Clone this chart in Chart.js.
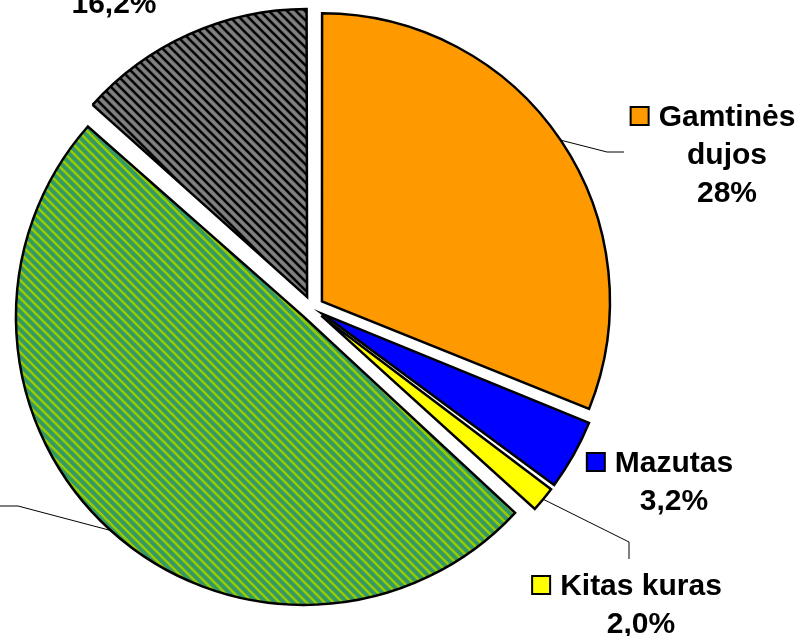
<!DOCTYPE html>
<html>
<head>
<meta charset="utf-8">
<script src="https://cdn.jsdelivr.net/npm/chart.js@4"></script>
<style>
  html, body { margin: 0; padding: 0; background: #fff; }
  #wrap { width: 798px; height: 636px; }
</style>
</head>
<body>
<div id="wrap"><canvas id="chart" width="798" height="636"></canvas></div>
<script>
// slices clockwise from 12 o'clock; sizes
const categories = ['Gamtinės dujos', 'Mazutas', 'Kitas kuras', '', ''];  // last two names are outside the picture
const shares = [31.1, 4.1, 1.6, 49.8, 13.4];
// label texts as printed on the chart
const labelNames = [['Gamtinės', 'dujos'], ['Mazutas'], ['Kitas kuras'], [], []];
const labelPercents = ['28%', '3,2%', '2,0%', null, '16,2%'];

const explode = 48;          // chart.js arc offset (draws a shift of explode/4 px)
const font = 'bold 30px "Liberation Sans", Arial, sans-serif';
const lineHeight = 38;

// label placement: text centre x, first baseline y, leader bend points
const labelLayout = [
  { x: 727, y: 126, key: true, leader: [[607, 152], [624, 152]] },
  { x: 674, y: 472, key: true, leader: null },
  { x: 641, y: 595, key: true, leader: [[629, 542], [629, 559]] },
  { x: null, y: null, key: false, leader: [[18, 506], [0, 506]] },
  { x: 114, y: 13, key: false, leader: null }
];

const ctx = document.getElementById('chart').getContext('2d');

function stripes(bg, fg, size, width) {
  const c = document.createElement('canvas');
  c.width = c.height = size;
  const g = c.getContext('2d');
  g.fillStyle = bg;
  g.fillRect(0, 0, size, size);
  g.strokeStyle = fg;
  g.lineWidth = width;
  g.beginPath();
  for (let k = -1; k <= 1; k++) {
    g.moveTo(k * size - 1, -1);
    g.lineTo(k * size + size + 1, size + 1);
  }
  g.stroke();
  return ctx.createPattern(c, 'repeat');
}

const fills = [
  '#ff9900',
  '#0000ff',
  '#ffff00',
  stripes('#339966', '#99cc00', 9, 2.6),
  stripes('#808080', '#000000', 9, 2.6)
];
const keyFills = ['#ff9900', '#0000ff', '#ffff00', '#339966', '#808080'];

// chart.js grows small exploded arcs a little; keep every slice on one radius
const evenRadius = {
  id: 'evenRadius',
  beforeDatasetsDraw(chart) {
    const meta = chart.getDatasetMeta(0);
    const R = meta.controller.outerRadius;
    meta.data.forEach(arc => {
      const fix = 1 - Math.sin(Math.min(Math.PI, arc.circumference));
      arc.outerRadius = R - (explode / 4) * fix;
    });
  }
};

const sliceLabels = {
  id: 'sliceLabels',
  afterDraw(chart) {
    const c = chart.ctx;
    const meta = chart.getDatasetMeta(0);
    const R = meta.controller.outerRadius;
    c.save();
    c.font = font;
    c.textAlign = 'center';
    c.textBaseline = 'alphabetic';
    labelLayout.forEach((lay, i) => {
      const arc = meta.data[i];
      if (lay.leader) {
        const mid = (arc.startAngle + arc.endAngle) / 2;
        const r = R + explode / 4;
        c.beginPath();
        c.moveTo(arc.x + Math.cos(mid) * r, arc.y + Math.sin(mid) * r);
        lay.leader.forEach(p => c.lineTo(p[0], p[1]));
        c.strokeStyle = '#000';
        c.lineWidth = 1;
        c.stroke();
      }
      if (lay.x === null) return;
      const lines = labelNames[i].slice();
      if (labelPercents[i]) lines.push(labelPercents[i]);
      lines.forEach((t, j) => {
        c.fillStyle = '#000';
        c.fillText(t, lay.x, lay.y + j * lineHeight);
      });
      if (lay.key) {
        const w = c.measureText(lines[0]).width;
        const kx = lay.x - w / 2 - 28;
        const ky = lay.y - 19;
        c.fillStyle = keyFills[i];
        c.fillRect(kx, ky, 18, 18);
        c.strokeStyle = '#000';
        c.lineWidth = 2;
        c.strokeRect(kx, ky, 18, 18);
      }
    });
    c.restore();
  }
};

new Chart(ctx, {
  type: 'pie',
  data: {
    labels: categories,
    datasets: [{
      data: shares,
      backgroundColor: fills,
      borderColor: '#000',
      borderWidth: 2.5,
      borderJoinStyle: 'miter',
      offset: explode
    }]
  },
  options: {
    responsive: false,
    animation: false,
    radius: 288,
    layout: { padding: { left: 0, right: 174, top: 0, bottom: 20 } },
    plugins: {
      legend: { display: false },
      tooltip: { enabled: false }
    }
  },
  plugins: [evenRadius, sliceLabels]
});
</script>
</body>
</html>
